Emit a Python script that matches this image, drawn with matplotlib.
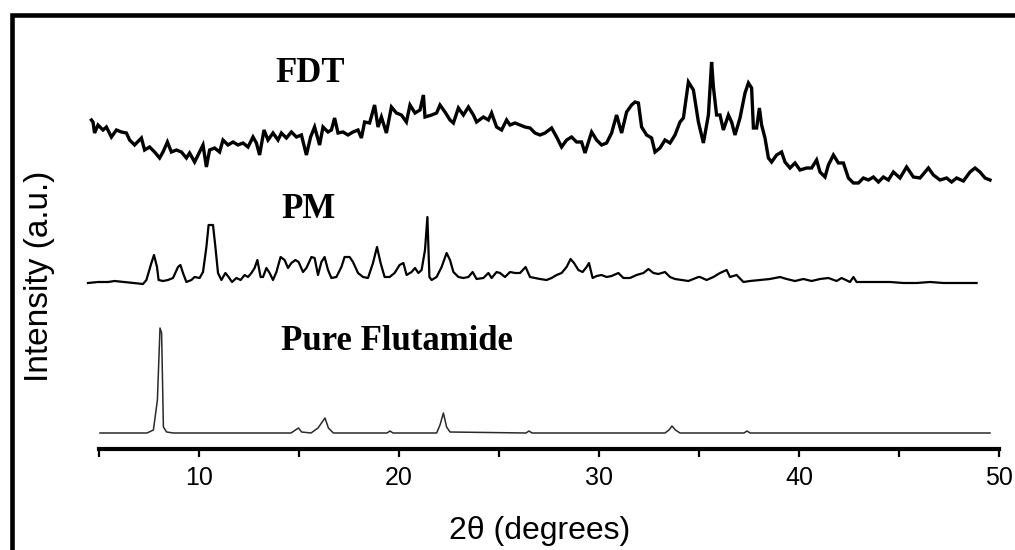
import matplotlib
matplotlib.use("Agg")
import matplotlib.pyplot as plt
from matplotlib.patches import Rectangle
from matplotlib.ticker import MultipleLocator

# ---------------- data (2-theta in degrees, intensity in a.u.) ----------------
fdt_x = [4.62, 4.70, 4.78, 4.95, 5.20, 5.37, 5.62, 5.87, 6.12, 6.37, 6.53, 6.78, 7.12, 7.28, 7.53,
         7.78, 8.03, 8.20, 8.42, 8.62, 8.87, 9.12, 9.37, 9.53, 9.78, 10.03, 10.20, 10.37, 10.53,
         10.78, 11.03, 11.20, 11.45, 11.70, 11.95, 12.20, 12.45, 12.70, 12.87, 13.03, 13.25, 13.45,
         13.70, 13.95, 14.12, 14.37, 14.62, 14.87, 15.12, 15.37, 15.58, 15.78, 16.03, 16.20, 16.45,
         16.62, 16.78, 16.95, 17.20, 17.45, 17.70, 17.95, 18.12, 18.28, 18.53, 18.78, 18.95, 19.12,
         19.37, 19.62, 19.87, 20.12, 20.37, 20.55, 20.80, 21.05, 21.22, 21.30, 21.63, 21.88, 22.05,
         22.30, 22.55, 22.72, 22.97, 23.22, 23.47, 23.72, 23.88, 24.22, 24.47, 24.63, 24.88, 25.13,
         25.38, 25.55, 25.80, 26.05, 26.30, 26.55, 26.80, 27.05, 27.30, 27.63, 27.88, 28.13, 28.38,
         28.63, 28.88, 29.13, 29.30, 29.63, 29.88, 30.13, 30.38, 30.63, 30.88, 31.13, 31.38, 31.63,
         31.80, 31.97, 32.13, 32.38, 32.63, 32.80, 33.05, 33.30, 33.55, 33.80, 34.05, 34.22, 34.47,
         34.72, 34.97, 35.22, 35.47, 35.63, 35.72, 35.88, 36.05, 36.22, 36.47, 36.63, 36.80, 37.05,
         37.30, 37.47, 37.63, 37.72, 37.88, 38.02, 38.13, 38.30, 38.47, 38.63, 38.88, 39.13, 39.30,
         39.55, 39.80, 40.05, 40.38, 40.63, 40.88, 41.05, 41.30, 41.47, 41.72, 41.97, 42.22, 42.47,
         42.72, 42.97, 43.22, 43.47, 43.72, 43.97, 44.22, 44.47, 44.72, 45.05, 45.38, 45.72, 46.05,
         46.47, 46.72, 47.05, 47.38, 47.63, 47.88, 48.22, 48.55, 48.80, 49.05, 49.30, 49.55]
fdt_y = [80, 78, 67, 75, 70, 73, 63, 70, 68, 67, 60, 55, 62, 50, 53,
         48, 42, 48, 58, 48, 50, 48, 42, 47, 38, 48, 55, 33, 50,
         52, 48, 60, 55, 58, 55, 57, 53, 63, 57, 45, 70, 60,
         67, 60, 67, 62, 68, 63, 65, 45, 63, 73, 55, 73, 68,
         70, 82, 67, 68, 65, 68, 70, 62, 78, 77, 95, 73, 83,
         67, 93, 87, 85, 78, 95, 87, 90, 105, 83, 85, 87, 95,
         88, 80, 77, 92, 85, 93, 85, 78, 83, 80, 87, 73, 70,
         80, 75, 77, 75, 73, 72, 67, 65, 67, 72, 63, 53, 60,
         63, 58, 58, 47, 68, 60, 55, 57, 67, 85, 67, 88, 95,
         98, 97, 73, 65, 62, 48, 52, 60, 57, 65, 78, 82, 118,
         110, 78, 57, 85, 138, 113, 85, 85, 70, 85, 78, 65, 82,
         107, 117, 112, 72, 72, 92, 75, 62, 42, 38, 45, 48, 38,
         32, 37, 30, 32, 32, 40, 28, 23, 35, 45, 37, 37, 22,
         17, 17, 22, 20, 23, 18, 23, 20, 28, 22, 33, 23, 22,
         32, 25, 20, 22, 18, 22, 19, 28, 32, 28, 22, 20]

pm_x = [4.45, 4.95, 5.45, 5.78, 7.20, 7.37, 7.62, 7.75, 7.90, 7.98, 8.20, 8.45, 8.70, 8.95,
        9.07, 9.20, 9.37, 9.62, 9.78, 10.03, 10.20, 10.37, 10.48, 10.70, 10.82, 10.95, 11.12,
        11.32, 11.48, 11.65, 11.87, 12.08, 12.28, 12.45, 12.62, 12.78, 12.92, 13.08, 13.20,
        13.37, 13.53, 13.70, 13.87, 14.08, 14.28, 14.45, 14.62, 14.82, 14.98, 15.20, 15.37,
        15.62, 15.78, 15.95, 16.12, 16.28, 16.45, 16.62, 16.87, 17.12, 17.28, 17.53, 17.70,
        17.95, 18.20, 18.45, 18.70, 18.90, 19.08, 19.28, 19.53, 19.78, 20.03, 20.22, 20.38,
        20.63, 20.80, 20.97, 21.13, 21.30, 21.42, 21.52, 21.63, 21.88, 22.13, 22.38, 22.55,
        22.72, 22.97, 23.22, 23.47, 23.68, 23.88, 24.22, 24.47, 24.63, 24.88, 25.05, 25.30,
        25.55, 25.80, 26.05, 26.33, 26.55, 26.80, 27.05, 27.38, 27.63, 27.88, 28.13, 28.38,
        28.58, 28.75, 28.97, 29.18, 29.38, 29.50, 29.68, 29.88, 30.13, 30.38, 30.63, 30.97,
        31.22, 31.55, 31.88, 32.22, 32.47, 32.72, 32.97, 33.30, 33.55, 33.80, 34.13, 34.47,
        34.72, 34.97, 35.05, 35.38, 35.72, 36.05, 36.38, 36.55, 36.88, 37.22, 37.55, 38.05,
        38.55, 39.05, 39.38, 39.80, 40.22, 40.63, 41.05, 41.47, 41.88, 42.13, 42.55, 42.72,
        42.88, 43.38, 43.88, 44.55, 45.22, 45.88, 46.55, 47.22, 47.88, 48.38, 48.88]
pm_y = [0, 1, 1, 2, -1, 3, 20, 28, 16, 3, 2, 3, 5, 16,
        18, 10, 1, 3, 6, 5, 11, 36, 58, 58, 36, 10, 3,
        10, 6, 1, 5, 3, 8, 6, 10, 15, 23, 6, 6,
        15, 10, 3, 11, 26, 23, 15, 20, 23, 21, 11, 15,
        26, 25, 8, 21, 26, 13, 5, 6, 16, 26, 26, 21,
        10, 6, 5, 20, 36, 20, 6, 6, 10, 18, 20, 8,
        11, 15, 10, 13, 33, 66, 6, 3, 6, 16, 30, 23,
        11, 6, 5, 6, 11, 4, 5, 10, 5, 11, 10, 6,
        11, 10, 10, 16, 6, 5, 4, 3, 5, 8, 10, 16,
        24, 20, 13, 11, 16, 20, 5, 7, 8, 6, 7, 10,
        5, 5, 8, 10, 14, 10, 9, 11, 6, 4, 3, 2,
        4, 6, 6, 3, 6, 10, 13, 6, 8, 1, 2, 3,
        4, 6, 4, 2, 4, 2, 4, 5, 2, 5, 1, 6,
        1, 1, 1, 1, 0, 0, 1, 0, 0, 0, 0]

pure_x = [5.05, 7.40, 7.72, 7.92, 8.05, 8.13, 8.22, 8.38, 8.72, 14.60, 14.97, 15.13, 15.60,
          15.95, 16.30, 16.47, 16.72, 19.40, 19.55, 19.70, 21.88, 22.05, 22.22, 22.38, 22.55,
          26.35, 26.50, 26.65, 33.30, 33.50, 33.65, 33.82, 34.05, 37.25, 37.40, 37.55, 49.55]
pure_y = [0, 0, 3, 33, 105, 100, 6, 1, 0, 0, 5, 1, 0,
          5, 15, 5, 0, 0, 2, 0, 0, 8, 20, 6, 1,
          0, 2, 0, 0, 3, 7, 3, 0, 0, 2, 0, 0]

labels = ["FDT", "PM", "Pure Flutamide"]
offsets = [249, 166, 16]          # vertical stacking of the three patterns
x_ticks = [10, 20, 30, 40, 50]

# ---------------- figure ----------------
W, H = 1015, 550
fig = plt.figure(figsize=(W / 100, H / 100), dpi=100)
fig.patch.set_facecolor("white")

# outer frame (top and left edges visible)
fig.patches.append(Rectangle((11.5 / W, -0.2), 1.3, 1.2 - 14.5 / H,
                             transform=fig.transFigure, fill=False,
                             edgecolor="black", linewidth=3.3, clip_on=False))

ax = fig.add_axes([99 / W, 1 - 449 / H, 900 / W, (449 - 20) / H])
ax.set_xlim(5, 50)
ax.set_ylim(0, 429)

ax.plot(fdt_x, [v + offsets[0] for v in fdt_y], color="black", lw=2.4, clip_on=False,
        solid_joinstyle="miter")
ax.plot(pm_x, [v + offsets[1] for v in pm_y], color="black", lw=1.6, clip_on=False)
ax.plot(pure_x, [v + offsets[2] for v in pure_y], color="#2a2a2a", lw=1.1, clip_on=False)

for s in ["top", "left", "right"]:
    ax.spines[s].set_visible(False)
ax.spines["bottom"].set_linewidth(3.0)
ax.set_yticks([])
ax.xaxis.set_minor_locator(MultipleLocator(5))
ax.set_xticks(x_ticks)
ax.tick_params(axis="x", which="both", direction="out", length=6, width=1.6, color="black")
ax.tick_params(axis="x", which="major", pad=6, labelsize=18)
for lab in ax.get_xticklabels():
    lab.set_fontfamily(["Liberation Sans", "DejaVu Sans"])

# axis titles
fig.text(40 / W, 1 - 276 / H, "Intensity (a.u.)", rotation=90, ha="center", va="center",
         fontsize=24, family=["Liberation Sans", "DejaVu Sans"])
fig.text(540 / W, 1 - 531 / H, "2θ (degrees)", ha="center", va="center",
         fontsize=23, family=["Liberation Sans", "DejaVu Sans"])

# pattern labels
serif = ["Liberation Serif", "DejaVu Serif"]
fig.text(310 / W, 1 - 74 / H, labels[0], ha="center", va="center", fontsize=25,
         fontweight="bold", family=serif)
fig.text(308 / W, 1 - 209 / H, labels[1], ha="center", va="center", fontsize=25,
         fontweight="bold", family=serif)
fig.text(281 / W, 1 - 341 / H, labels[2], ha="left", va="center", fontsize=25,
         fontweight="bold", family=serif)

fig.savefig("out.png", dpi=100, facecolor="white")
